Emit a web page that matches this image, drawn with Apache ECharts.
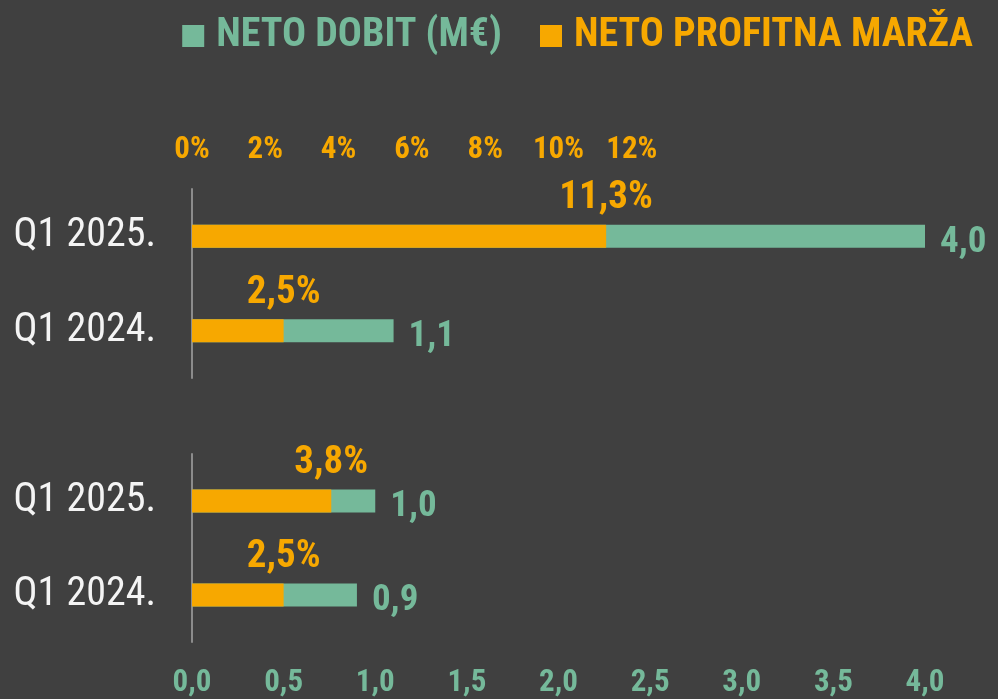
<!DOCTYPE html>
<html>
<head>
<meta charset="utf-8">
<script src="https://cdn.jsdelivr.net/npm/echarts@6/dist/echarts.min.js"></script>
<style>
  html, body { margin: 0; padding: 0; background: #404040; }
  #chart { width: 998px; height: 699px; }
</style>
</head>
<body>
<div id="chart"></div>
<script>
var chart = echarts.init(document.getElementById('chart'));

var categories = ['Q1 2025.', 'Q1 2024.'];
var profitTop = [4.0, 1.1];      // neto dobit, M€
var marginTop = [11.3, 2.5];     // neto profitna marža, %
var profitBottom = [1.0, 0.9];
var marginBottom = [3.8, 2.5];
var legendNames = ['NETO DOBIT (M€)', 'NETO PROFITNA MARŽA'];

var green = '#75b99a';
var orange = '#f7a800';
var font = "'Roboto Condensed', 'Liberation Sans Narrow', 'DejaVu Sans Condensed', 'Arial Narrow', Roboto, sans-serif";

function fmt(v, d) {
    return v.toFixed(d).replace('.', ',');
}

function pctPoints(arr) {
    return arr.map(function (v, i) { return [v, categories[i]]; });
}

var catAxis = {
    type: 'category',
    data: categories,
    inverse: true,
    axisLine: { show: true, lineStyle: { color: '#8c8c8c', width: 2 } },
    axisTick: { show: false },
    splitLine: { show: false },
    axisLabel: {
        color: '#f4f4f4',
        fontFamily: font,
        fontSize: 40,
        margin: 36
    }
};

var barLabel = {
    show: true,
    position: 'right',
    distance: 15,
    offset: [0, 6],
    color: green,
    fontFamily: font,
    fontWeight: 'bold',
    fontSize: 37,
    formatter: function (p) { return fmt(p.value, 1); }
};

var pctLabel = {
    show: true,
    position: 'inside',
    offset: [0, -38],
    color: orange,
    opacity: 1,
    fontFamily: font,
    fontWeight: 'bold',
    fontSize: 39,
    formatter: function (p) { return fmt(p.value[0], 1) + '%'; }
};

var option = {
    backgroundColor: '#404040',
    animation: false,
    legend: {
        right: 20,
        top: 11,
        icon: 'rect',
        itemWidth: 22,
        itemHeight: 22,
        itemGap: 38,
        textStyle: {
            fontFamily: font,
            fontWeight: 'bold',
            fontSize: 40,
            padding: [0, 0, 0, 7]
        },
        data: [
            { name: legendNames[0], textStyle: { color: green } },
            { name: legendNames[1], textStyle: { color: orange } }
        ]
    },
    grid: [
        { left: 192, right: 73, top: 189, height: 189 },
        { left: 192, right: 73, top: 454, height: 188 }
    ],
    xAxis: [
        {   // percent axis, top group (visible)
            gridIndex: 0,
            type: 'value',
            position: 'top',
            min: 0, max: 20, interval: 2,
            axisLine: { show: false },
            axisTick: { show: false },
            splitLine: { show: false },
            axisLabel: {
                margin: 23,
                color: orange,
                fontFamily: font,
                fontWeight: 'bold',
                fontSize: 31,
                formatter: function (v) { return v <= 12 ? v + '%' : ''; }
            }
        },
        {   // profit axis, top group (hidden)
            gridIndex: 0,
            type: 'value',
            min: 0, max: 4,
            show: false
        },
        {   // percent axis, bottom group (hidden)
            gridIndex: 1,
            type: 'value',
            position: 'top',
            min: 0, max: 20,
            show: false
        },
        {   // profit axis, bottom group (visible)
            gridIndex: 1,
            type: 'value',
            min: 0, max: 4, interval: 0.5,
            axisLine: { show: false },
            axisTick: { show: false },
            splitLine: { show: false },
            axisLabel: {
                margin: 26,
                color: green,
                fontFamily: font,
                fontWeight: 'bold',
                fontSize: 31,
                formatter: function (v) { return fmt(v, 1); }
            }
        }
    ],
    yAxis: [
        Object.assign({ gridIndex: 0 }, catAxis),
        Object.assign({ gridIndex: 1 }, catAxis)
    ],
    series: [
        {
            name: legendNames[0],
            type: 'bar',
            xAxisIndex: 1, yAxisIndex: 0,
            barWidth: 23,
            barGap: '-100%',
            silent: true,
            itemStyle: { color: green },
            label: barLabel,
            data: profitTop
        },
        {
            name: legendNames[1],
            type: 'bar',
            xAxisIndex: 0, yAxisIndex: 0,
            barWidth: 23,
            barGap: '-100%',
            silent: true,
            itemStyle: { color: orange },
            data: marginTop
        },
        {
            name: 'pctTop',
            type: 'scatter',
            xAxisIndex: 0, yAxisIndex: 0,
            symbolSize: 0,
            silent: true,
            itemStyle: { opacity: 1, color: orange },
            label: pctLabel,
            data: pctPoints(marginTop)
        },
        {
            name: legendNames[0],
            type: 'bar',
            xAxisIndex: 3, yAxisIndex: 1,
            barWidth: 23,
            barGap: '-100%',
            silent: true,
            itemStyle: { color: green },
            label: barLabel,
            data: profitBottom
        },
        {
            name: legendNames[1],
            type: 'bar',
            xAxisIndex: 2, yAxisIndex: 1,
            barWidth: 23,
            barGap: '-100%',
            silent: true,
            itemStyle: { color: orange },
            data: marginBottom
        },
        {
            name: 'pctBottom',
            type: 'scatter',
            xAxisIndex: 2, yAxisIndex: 1,
            symbolSize: 0,
            silent: true,
            itemStyle: { opacity: 1, color: orange },
            label: pctLabel,
            data: pctPoints(marginBottom)
        }
    ]
};

chart.setOption(option);
</script>
</body>
</html>
